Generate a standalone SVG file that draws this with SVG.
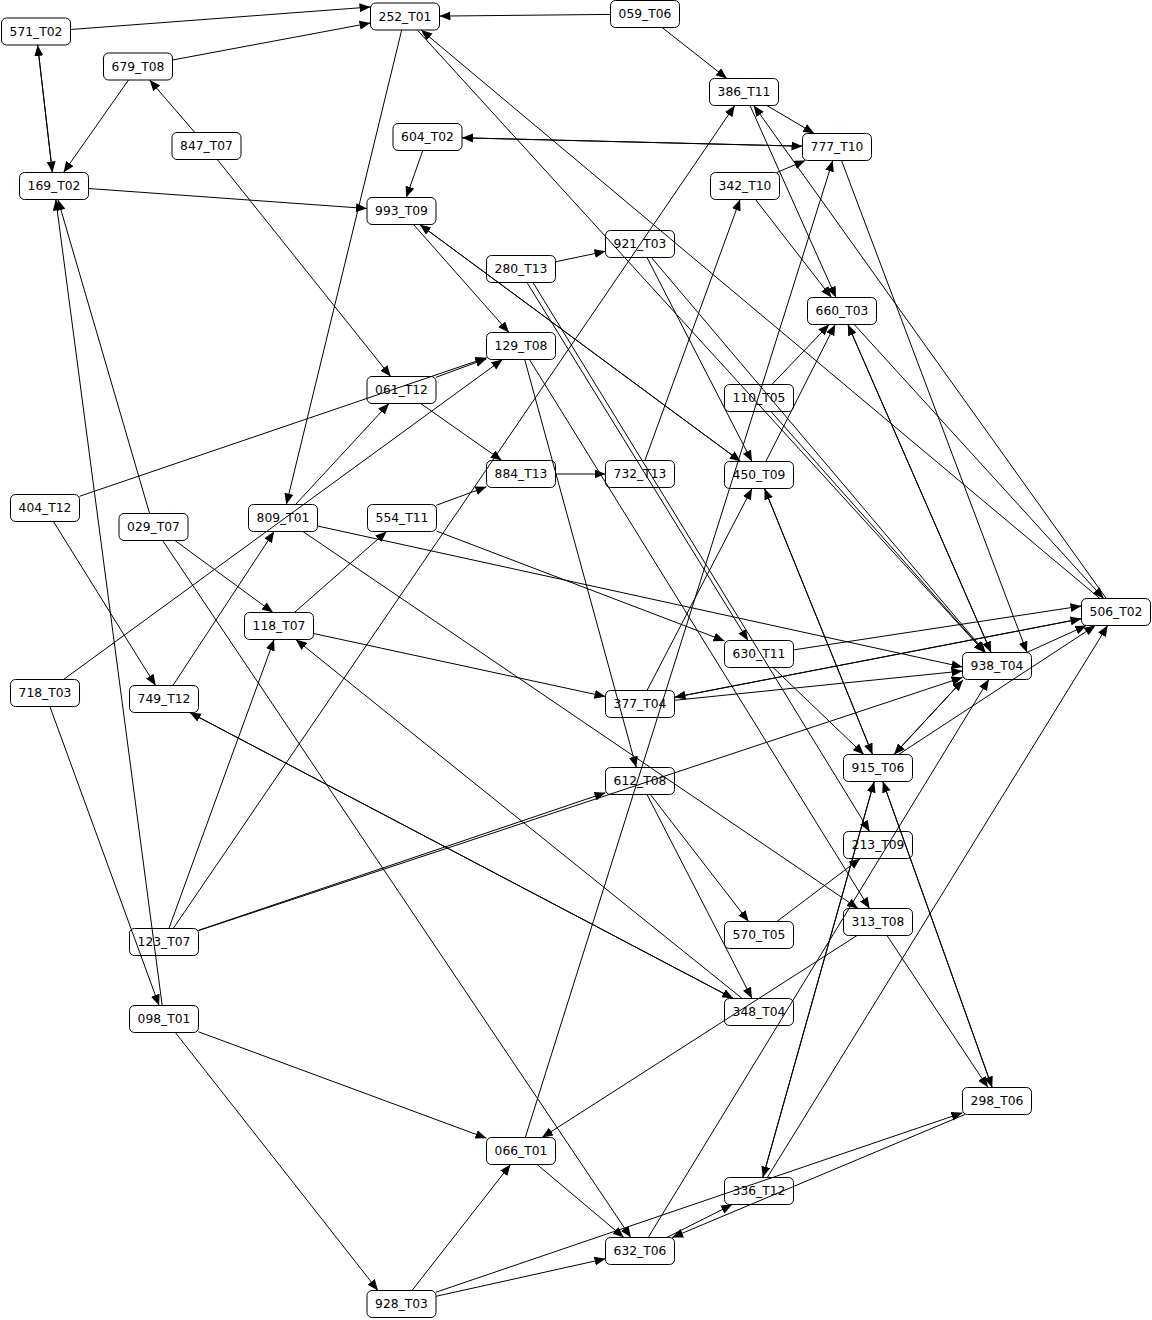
<svg xmlns="http://www.w3.org/2000/svg" width="1152" height="1320" viewBox="0 0 1152 1320">
<style>
.n rect{fill:#fff;stroke:#000;stroke-width:1}
.n text{font-family:"DejaVu Sans",Verdana,sans-serif;font-size:12.3px;fill:#000;text-anchor:middle}
#edges path{fill:none;stroke:#000;stroke-width:1;marker-end:url(#ah)}
</style>
<defs>
<marker id="ah" markerUnits="userSpaceOnUse" markerWidth="12" markerHeight="10" refX="11" refY="4.5" orient="auto">
<path d="M0,0 L11,4.5 L0,9 z" fill="#000"/>
</marker>
</defs>
<rect width="1152" height="1320" fill="#fff"/>
<g id="nodes">
<g id="n571_T02" class="n"><rect x="1.5" y="18" width="69" height="27" rx="5"/><text x="36" y="35.8">571_T02</text></g>
<g id="n252_T01" class="n"><rect x="370.5" y="3" width="69" height="27" rx="5"/><text x="405" y="20.8">252_T01</text></g>
<g id="n059_T06" class="n"><rect x="610.5" y="0.5" width="69" height="27" rx="5"/><text x="645" y="18.3">059_T06</text></g>
<g id="n679_T08" class="n"><rect x="103.5" y="53" width="69" height="27" rx="5"/><text x="138" y="70.8">679_T08</text></g>
<g id="n386_T11" class="n"><rect x="709.5" y="78.5" width="69" height="27" rx="5"/><text x="744" y="96.3">386_T11</text></g>
<g id="n847_T07" class="n"><rect x="172" y="132.5" width="69" height="27" rx="5"/><text x="206.5" y="150.3">847_T07</text></g>
<g id="n604_T02" class="n"><rect x="393" y="123.5" width="69" height="27" rx="5"/><text x="427.5" y="141.3">604_T02</text></g>
<g id="n777_T10" class="n"><rect x="802.5" y="133.5" width="69" height="27" rx="5"/><text x="837" y="151.3">777_T10</text></g>
<g id="n342_T10" class="n"><rect x="710.5" y="172.5" width="69" height="27" rx="5"/><text x="745" y="190.3">342_T10</text></g>
<g id="n169_T02" class="n"><rect x="19.5" y="172.5" width="69" height="27" rx="5"/><text x="54" y="190.3">169_T02</text></g>
<g id="n993_T09" class="n"><rect x="367" y="197.5" width="69" height="27" rx="5"/><text x="401.5" y="215.3">993_T09</text></g>
<g id="n921_T03" class="n"><rect x="605.5" y="230.5" width="69" height="27" rx="5"/><text x="640" y="248.3">921_T03</text></g>
<g id="n280_T13" class="n"><rect x="486.5" y="255.5" width="69" height="27" rx="5"/><text x="521" y="273.3">280_T13</text></g>
<g id="n660_T03" class="n"><rect x="807.5" y="297.5" width="69" height="27" rx="5"/><text x="842" y="315.3">660_T03</text></g>
<g id="n129_T08" class="n"><rect x="486.5" y="332.5" width="69" height="27" rx="5"/><text x="521" y="350.3">129_T08</text></g>
<g id="n061_T12" class="n"><rect x="367" y="376.5" width="69" height="27" rx="5"/><text x="401.5" y="394.3">061_T12</text></g>
<g id="n110_T05" class="n"><rect x="724.5" y="384.5" width="69" height="27" rx="5"/><text x="759" y="402.3">110_T05</text></g>
<g id="n404_T12" class="n"><rect x="10.5" y="494.5" width="69" height="27" rx="5"/><text x="45" y="512.3">404_T12</text></g>
<g id="n029_T07" class="n"><rect x="119" y="513.5" width="69" height="27" rx="5"/><text x="153.5" y="531.3">029_T07</text></g>
<g id="n809_T01" class="n"><rect x="248.5" y="504.5" width="69" height="27" rx="5"/><text x="283" y="522.3">809_T01</text></g>
<g id="n554_T11" class="n"><rect x="367.5" y="504.5" width="69" height="27" rx="5"/><text x="402" y="522.3">554_T11</text></g>
<g id="n884_T13" class="n"><rect x="486.5" y="460.5" width="69" height="27" rx="5"/><text x="521" y="478.3">884_T13</text></g>
<g id="n732_T13" class="n"><rect x="605.5" y="460.5" width="69" height="27" rx="5"/><text x="640" y="478.3">732_T13</text></g>
<g id="n450_T09" class="n"><rect x="724.5" y="461.5" width="69" height="27" rx="5"/><text x="759" y="479.3">450_T09</text></g>
<g id="n118_T07" class="n"><rect x="244.5" y="612.5" width="69" height="27" rx="5"/><text x="279" y="630.3">118_T07</text></g>
<g id="n506_T02" class="n"><rect x="1081.5" y="598.5" width="69" height="27" rx="5"/><text x="1116" y="616.3">506_T02</text></g>
<g id="n630_T11" class="n"><rect x="724.5" y="640.5" width="69" height="27" rx="5"/><text x="759" y="658.3">630_T11</text></g>
<g id="n938_T04" class="n"><rect x="962.5" y="652.5" width="69" height="27" rx="5"/><text x="997" y="670.3">938_T04</text></g>
<g id="n718_T03" class="n"><rect x="10.5" y="679.5" width="69" height="27" rx="5"/><text x="45" y="697.3">718_T03</text></g>
<g id="n749_T12" class="n"><rect x="129.5" y="685.5" width="69" height="27" rx="5"/><text x="164" y="703.3">749_T12</text></g>
<g id="n377_T04" class="n"><rect x="605.5" y="690.5" width="69" height="27" rx="5"/><text x="640" y="708.3">377_T04</text></g>
<g id="n915_T06" class="n"><rect x="843.5" y="754.5" width="69" height="27" rx="5"/><text x="878" y="772.3">915_T06</text></g>
<g id="n612_T08" class="n"><rect x="605.5" y="767.5" width="69" height="27" rx="5"/><text x="640" y="785.3">612_T08</text></g>
<g id="n213_T09" class="n"><rect x="843.5" y="831.5" width="69" height="27" rx="5"/><text x="878" y="849.3">213_T09</text></g>
<g id="n570_T05" class="n"><rect x="724.5" y="921.5" width="69" height="27" rx="5"/><text x="759" y="939.3">570_T05</text></g>
<g id="n313_T08" class="n"><rect x="843.5" y="908.5" width="69" height="27" rx="5"/><text x="878" y="926.3">313_T08</text></g>
<g id="n123_T07" class="n"><rect x="129.5" y="928.5" width="69" height="27" rx="5"/><text x="164" y="946.3">123_T07</text></g>
<g id="n348_T04" class="n"><rect x="724.5" y="998.5" width="69" height="27" rx="5"/><text x="759" y="1016.3">348_T04</text></g>
<g id="n098_T01" class="n"><rect x="129.5" y="1005.5" width="69" height="27" rx="5"/><text x="164" y="1023.3">098_T01</text></g>
<g id="n298_T06" class="n"><rect x="962.5" y="1087.5" width="69" height="27" rx="5"/><text x="997" y="1105.3">298_T06</text></g>
<g id="n066_T01" class="n"><rect x="486.5" y="1137.5" width="69" height="27" rx="5"/><text x="521" y="1155.3">066_T01</text></g>
<g id="n336_T12" class="n"><rect x="724.5" y="1177.5" width="69" height="27" rx="5"/><text x="759" y="1195.3">336_T12</text></g>
<g id="n632_T06" class="n"><rect x="605.5" y="1237.5" width="69" height="27" rx="5"/><text x="640" y="1255.3">632_T06</text></g>
<g id="n928_T03" class="n"><rect x="367" y="1290.5" width="69" height="27" rx="5"/><text x="401.5" y="1308.3">928_T03</text></g>
</g>
<g id="edges">
<path d="M70.5,29.5 L370.5,7"/>
<path d="M172.5,60 L370.5,23"/>
<path d="M610.5,14.4 L439.5,16.1"/>
<path d="M1099.9,598.5 L421.1,30"/>
<path d="M401.7,30 L286.3,504.5"/>
<path d="M417.3,30 L984.7,652.5"/>
<path d="M662.1,27.5 L726.9,78.5"/>
<path d="M37.6,45 L52.4,172.5"/>
<path d="M52.4,172.5 L37.6,45"/>
<path d="M128.5,80 L63.5,172.5"/>
<path d="M194.9,132.5 L149.6,80"/>
<path d="M217.3,159.5 L390.7,376.5"/>
<path d="M88.5,188.5 L367,208.5"/>
<path d="M422.8,150.5 L406.2,197.5"/>
<path d="M462,137.8 L802.5,146.2"/>
<path d="M802.5,146.2 L462,137.8"/>
<path d="M766.8,105.5 L814.2,133.5"/>
<path d="M750,105.5 L836,297.5"/>
<path d="M1106.3,598.5 L753.7,105.5"/>
<path d="M173.2,928.5 L734.8,105.5"/>
<path d="M776.8,172.5 L805.2,160.5"/>
<path d="M755.5,199.5 L831.5,297.5"/>
<path d="M644.9,460.5 L740.1,199.5"/>
<path d="M525.3,1137.5 L832.8,160.5"/>
<path d="M841.5,160.5 L1027,652.5"/>
<path d="M413.5,224.5 L509,332.5"/>
<path d="M419.8,224.5 L740.7,461.5"/>
<path d="M740.7,461.5 L419.8,224.5"/>
<path d="M555.5,261.8 L605.5,251.3"/>
<path d="M527,282.5 L748,640.5"/>
<path d="M533,282.5 L869.6,831.5"/>
<path d="M647,257.5 L752,461.5"/>
<path d="M651.4,257.5 L985.6,652.5"/>
<path d="M771.9,384.5 L829.1,324.5"/>
<path d="M771,411.5 L985,652.5"/>
<path d="M765.8,461.5 L835.2,324.5"/>
<path d="M847.9,324.5 L991.1,652.5"/>
<path d="M991.1,652.5 L847.9,324.5"/>
<path d="M854.3,324.5 L1103.7,598.5"/>
<path d="M436,377.3 L486.5,358.7"/>
<path d="M79.5,496.3 L486.5,357.7"/>
<path d="M63.5,679.5 L502.5,359.5"/>
<path d="M295.5,504.5 L389,403.5"/>
<path d="M420.7,403.5 L501.8,460.5"/>
<path d="M524.7,359.5 L636.3,767.5"/>
<path d="M529.4,359.5 L869.6,908.5"/>
<path d="M436.5,505.2 L486.5,486.8"/>
<path d="M555.5,474 L605.5,474"/>
<path d="M294.4,612.5 L386.6,531.5"/>
<path d="M436.5,531.1 L724.5,640.9"/>
<path d="M647,690.5 L752,488.5"/>
<path d="M764.5,488.5 L872.5,754.5"/>
<path d="M872.5,754.5 L764.5,488.5"/>
<path d="M149.6,513.5 L57.9,199.5"/>
<path d="M162.2,1005.5 L55.8,199.5"/>
<path d="M175,540.5 L273,612.5"/>
<path d="M162.6,540.5 L630.9,1237.5"/>
<path d="M53.4,521.5 L155.6,685.5"/>
<path d="M172.9,685.5 L274.1,531.5"/>
<path d="M49.9,706.5 L159.1,1005.5"/>
<path d="M317.5,526 L962.5,667"/>
<path d="M302.9,531.5 L858.1,908.5"/>
<path d="M168.9,928.5 L274.1,639.5"/>
<path d="M189.7,712.5 L733.3,998.5"/>
<path d="M733.3,998.5 L189.7,712.5"/>
<path d="M742.2,998.5 L295.8,639.5"/>
<path d="M313.5,633.5 L605.5,696.6"/>
<path d="M793.5,649.9 L1081.5,606"/>
<path d="M773.1,667.5 L863.9,754.5"/>
<path d="M674.5,700.3 L962.5,671"/>
<path d="M674.5,697.3 L1081.5,618.7"/>
<path d="M1081.5,618.7 L674.5,697.3"/>
<path d="M1026.8,652.5 L1086.3,625.5"/>
<path d="M898.6,754.5 L1095.4,625.5"/>
<path d="M767.3,1177.5 L1107.7,625.5"/>
<path d="M963,680 L894,754.5"/>
<path d="M894,754.5 L963,680"/>
<path d="M198.5,930.3 L605.5,792.7"/>
<path d="M198.5,930.6 L962.5,677.4"/>
<path d="M650.4,794.5 L748.6,921.5"/>
<path d="M647,794.5 L752,998.5"/>
<path d="M776.9,921.5 L860.2,858.5"/>
<path d="M857,935.5 L542,1137.5"/>
<path d="M887,935.5 L988,1087.5"/>
<path d="M882.8,781.5 L992.2,1087.5"/>
<path d="M992.2,1087.5 L882.8,781.5"/>
<path d="M762.8,1177.5 L874.2,781.5"/>
<path d="M874.2,781.5 L762.8,1177.5"/>
<path d="M648.2,1237.5 L988.8,679.5"/>
<path d="M666.8,1237.5 L732.2,1204.5"/>
<path d="M964.9,1114.5 L672.1,1237.5"/>
<path d="M436,1292.2 L962.5,1112.8"/>
<path d="M412,1290.5 L510.5,1164.5"/>
<path d="M436,1296.3 L605.5,1258.7"/>
<path d="M537.1,1164.5 L623.9,1237.5"/>
<path d="M198.5,1031.8 L486.5,1138.2"/>
<path d="M175.3,1032.5 L378,1290.5"/>
</g>
</svg>
